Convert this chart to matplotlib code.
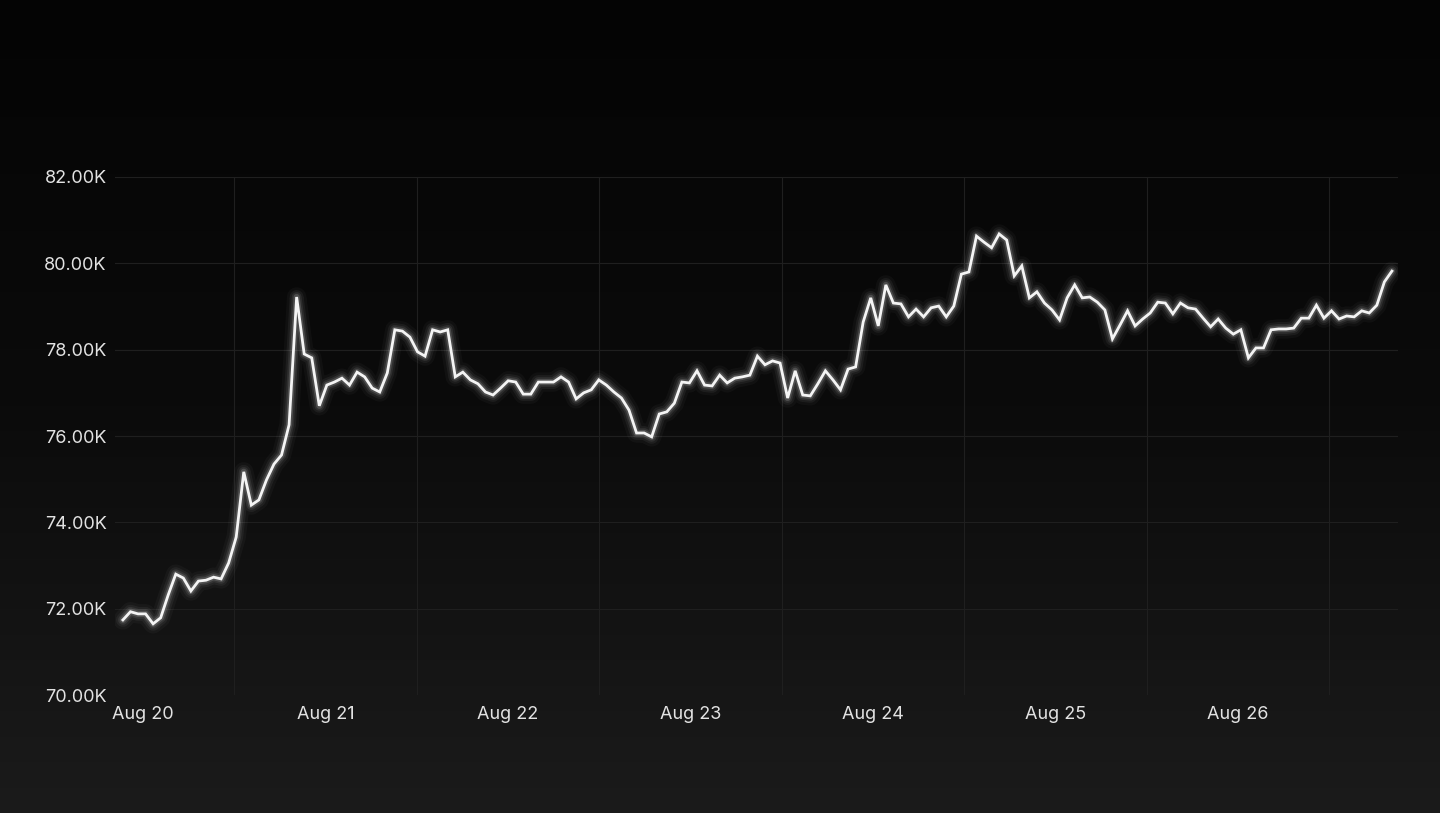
import numpy as np
import matplotlib
matplotlib.use("Agg")
import matplotlib.pyplot as plt
from matplotlib.colors import LinearSegmentedColormap

prices_k = [71.74,71.93,71.88,71.88,71.65,71.79,72.32,72.80,72.71,72.41,72.64,72.66,72.73,72.69,73.06,73.66,75.17,74.40,74.52,74.98,75.35,75.56,76.26,79.22,77.90,77.81,76.70,77.18,77.25,77.34,77.18,77.48,77.37,77.11,77.02,77.46,78.46,78.43,78.29,77.95,77.85,78.46,78.41,78.46,77.37,77.48,77.30,77.21,77.02,76.95,77.11,77.28,77.25,76.97,76.97,77.25,77.25,77.25,77.37,77.25,76.86,77.00,77.07,77.30,77.18,77.02,76.88,76.60,76.07,76.07,75.98,76.51,76.56,76.76,77.25,77.23,77.51,77.18,77.16,77.41,77.23,77.34,77.37,77.41,77.85,77.65,77.74,77.69,76.88,77.51,76.95,76.93,77.21,77.51,77.30,77.07,77.55,77.60,78.64,79.20,78.55,79.50,79.08,79.06,78.76,78.94,78.76,78.97,79.01,78.76,79.01,79.75,79.80,80.63,80.49,80.36,80.68,80.54,79.71,79.94,79.20,79.34,79.08,78.92,78.69,79.20,79.50,79.20,79.22,79.10,78.92,78.25,78.57,78.90,78.55,78.71,78.85,79.10,79.08,78.83,79.08,78.97,78.94,78.73,78.53,78.71,78.50,78.36,78.46,77.81,78.04,78.04,78.46,78.48,78.48,78.50,78.73,78.73,79.03,78.73,78.90,78.71,78.78,78.76,78.90,78.85,79.03,79.57,79.82]
start_day = -0.110   # first sample, days after Aug 20 00:00
end_day = 6.844      # last sample
tick_labels = ["Aug 20", "Aug 21", "Aug 22", "Aug 23", "Aug 24", "Aug 25", "Aug 26"]
y_ticks = [70, 72, 74, 76, 78, 80, 82]

days = np.linspace(start_day, end_day, len(prices_k))

fig = plt.figure(figsize=(14.4, 8.13), dpi=100)
bg = fig.add_axes([0, 0, 1, 1], zorder=0)
grad = np.linspace(0, 1, 256)[:, None]
cmap = LinearSegmentedColormap.from_list("bg", ["#040404", "#0b0b0b", "#1b1b1b"])
bg.imshow(grad, aspect="auto", cmap=cmap, extent=[0, 1, 0, 1], origin="upper")
bg.axis("off")

ax = fig.add_axes([0.0799, 0.1451, 0.8909, 0.6372], zorder=1)
ax.patch.set_alpha(0)
for s in ax.spines.values():
    s.set_visible(False)

for w, a in [(14, 0.03), (10, 0.05), (7, 0.08), (4.5, 0.15)]:
    ax.plot(days, prices_k, color="white", lw=w, alpha=a, solid_joinstyle="round", solid_capstyle="round")
ax.plot(days, prices_k, color="#f4f4f4", lw=2.0, solid_joinstyle="miter")

ax.set_xlim(-0.153, 6.877)
ax.set_ylim(70, 82)
ax.set_yticks(y_ticks)
ax.set_yticklabels([f"{v:.2f}K" for v in y_ticks])
ax.set_xticks(range(len(tick_labels)))
ax.set_xticklabels(tick_labels)
ax.tick_params(length=0, colors="#e2e2e2", labelsize=13)
ax.tick_params(axis="y", pad=6)
ax.tick_params(axis="x", pad=8)
for lab in ax.get_xticklabels() + ax.get_yticklabels():
    lab.set_fontfamily(["Inter", "DejaVu Sans"])

for v in y_ticks:
    ax.axhline(v, color="#1f1f1f", lw=0.8, zorder=0)
for d in np.arange(0.5, 7, 1.0):
    ax.axvline(d, color="#1f1f1f", lw=0.8, zorder=0)

fig.savefig("out.png", dpi=100)
